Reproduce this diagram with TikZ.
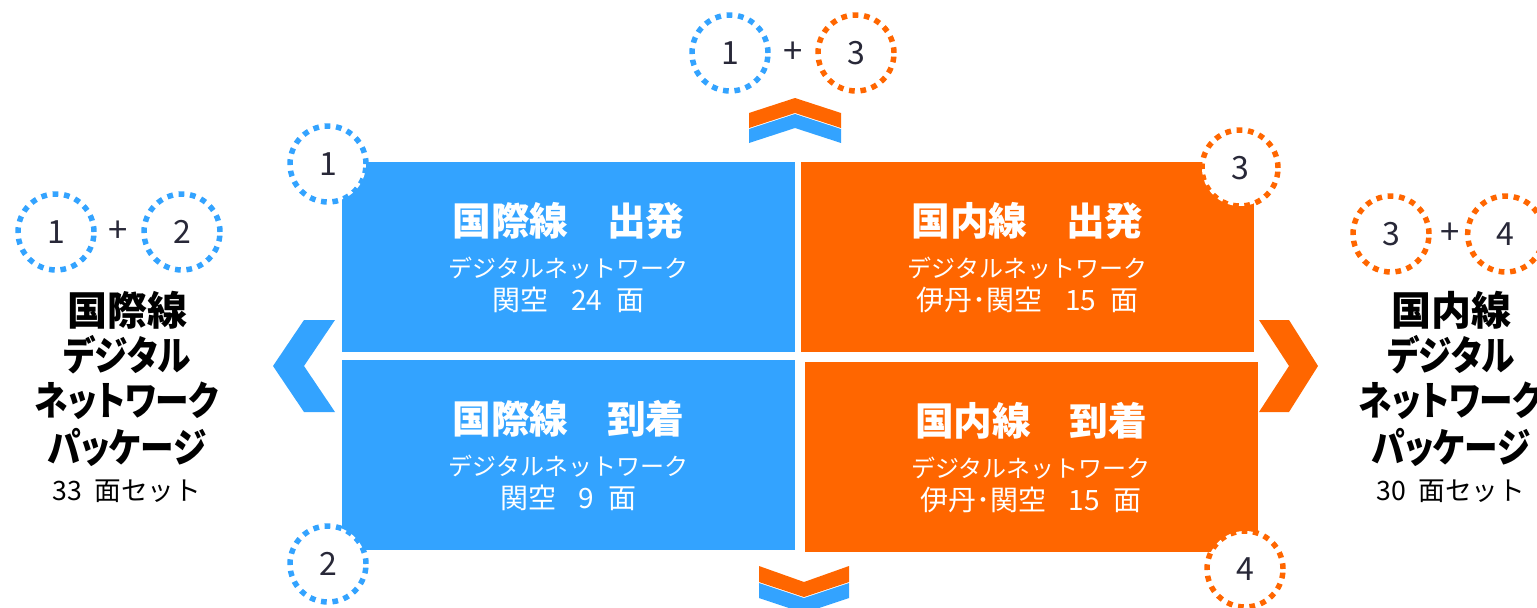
\documentclass[tikz,border=0pt]{standalone}
\usepackage{fontspec}
\usepackage{graphicx}
\setmainfont{Noto Sans CJK JP}
\newfontfamily\pkgfont{Noto Sans CJK JP}[RawFeature=+palt]
\usepackage{tikz}
\usetikzlibrary{positioning}
\definecolor{intblue}{RGB}{51,163,255}
\definecolor{domorange}{RGB}{255,102,0}
\definecolor{numink}{RGB}{40,40,56}
\newcommand{\narrow}[1]{\scalebox{0.84}[1]{#1}}

\begin{document}
\begin{tikzpicture}[x=0.75pt,y=-0.75pt,on grid,
    panel/.style={rectangle,inner sep=0pt,minimum width=339.75pt,minimum height=142.5pt},
    paneltitle/.style={anchor=base,text=white,font=\fontsize{29}{34}\selectfont\bfseries},
    panelsub/.style={anchor=base,text=white,font=\fontsize{18}{22}\selectfont},
    panelcount/.style={anchor=base,text=white,font=\fontsize{21}{25}\selectfont},
    dotnum/.style={circle,draw,fill=white,line width=4.1pt,dash pattern=on 4.3pt off 4.3pt,
        minimum size=57pt,inner sep=0pt,text=numink,font=\fontsize{24}{28}\selectfont},
    plussign/.style={text=numink,font=\fontsize{26}{30}\selectfont},
    pkgline/.style={text height=0.88em,text depth=0.12em,inner sep=0pt,
        font=\pkgfont\bfseries\fontsize{30}{36}\selectfont},
    pkgcount/.style={anchor=base,font=\fontsize{20}{24}\selectfont}]
    \useasboundingbox (0,0) rectangle (1537,607);

    % panels
    \node[panel,fill=intblue] (intdep) at (568.5,257) {};
    \node[panel,fill=domorange] (domdep) at (1027.5,257) {};
    \node[panel,fill=intblue] (intarr) at (568.5,454.5) {};
    \node[panel,fill=domorange] (domarr) at (1031,457) {};

    \node[paneltitle] (intdep-t) at (568.5,235) {国際線\hspace{1em}出発};
    \node[panelsub] (intdep-s) at (568.5,277) {デジタルネットワーク};
    \node[panelcount] (intdep-n) at (568.5,310) {関空\hspace{0.8em}24\hspace{0.5em}面};
    \node[paneltitle] (domdep-t) at (1027.5,235) {国内線\hspace{1em}出発};
    \node[panelsub] (domdep-s) at (1027.5,277) {デジタルネットワーク};
    \node[panelcount] (domdep-n) at (1027.5,310) {伊丹･関空\hspace{0.8em}15\hspace{0.5em}面};
    \node[paneltitle] (intarr-t) at (568.5,433) {国際線\hspace{1em}到着};
    \node[panelsub] (intarr-s) at (568.5,475) {デジタルネットワーク};
    \node[panelcount] (intarr-n) at (568.5,508) {関空\hspace{0.8em}9\hspace{0.5em}面};
    \node[paneltitle] (domarr-t) at (1031,435) {国内線\hspace{1em}到着};
    \node[panelsub] (domarr-s) at (1031,477) {デジタルネットワーク};
    \node[panelcount] (domarr-n) at (1031,510) {伊丹･関空\hspace{0.8em}15\hspace{0.5em}面};

    % corner numbers
    \node[dotnum,draw=intblue] (c1) at (328,164) {1};
    \node[dotnum,draw=domorange] (c3) at (1240,168) {3};
    \node[dotnum,draw=intblue] (c2) at (328,564) {2};
    \node[dotnum,draw=domorange] (c4) at (1245,569) {4};

    % chevrons
    \fill[domorange] (749,113) -- (795,98) -- (841,113) -- (841,128) -- (795,113) -- (749,128) -- cycle;
    \fill[intblue] (749,129) -- (795,114) -- (841,129) -- (841,143) -- (795,128) -- (749,143) -- cycle;
    \fill[domorange] (759,566) -- (804,582) -- (849,566) -- (849,582) -- (804,597) -- (759,582) -- cycle;
    \fill[intblue] (759,583) -- (804,598) -- (849,583) -- (849,598) -- (804,613) -- (759,598) -- cycle;
    \fill[intblue] (304,320) -- (335,320) -- (304,366) -- (335,412) -- (304,412) -- (273,366) -- cycle;
    \fill[domorange] (1259,320) -- (1289,320) -- (1318,366) -- (1289,412) -- (1259,412) -- (1289,366) -- cycle;

    % top pair
    \node[dotnum,draw=intblue] (t1) at (730,53) {1};
    \node[plussign] (tplus) [right=47.25pt of t1] {+};
    \node[dotnum,draw=domorange] (t3) [right=94.5pt of t1] {3};

    % left package
    \node[dotnum,draw=intblue] (l1) at (56,232) {1};
    \node[plussign] (lplus) [right=46.5pt of l1] {+};
    \node[dotnum,draw=intblue] (l2) [right=94.5pt of l1] {2};
    \node[pkgline,anchor=base] (lpkg1) at (127,325) {国際線};
    \node[pkgline] (lpkg2) [below=34pt of lpkg1] {\narrow{デジタル}};
    \node[pkgline] (lpkg3) [below=34pt of lpkg2] {\narrow{ネットワーク}};
    \node[pkgline] (lpkg4) [below=35pt of lpkg3] {\narrow{パッケージ}};
    \node[pkgcount] (lcount) at (127,500) {33\hspace{0.45em}面セット};

    % right package
    \node[dotnum,draw=domorange] (r3) at (1391,234) {3};
    \node[plussign] (rplus) [right=44pt of r3] {+};
    \node[dotnum,draw=domorange] (r4) [right=86pt of r3] {4};
    \node[pkgline,anchor=base] (rpkg1) at (1451,325) {国内線};
    \node[pkgline] (rpkg2) [below=34pt of rpkg1] {\narrow{デジタル}};
    \node[pkgline] (rpkg3) [below=34pt of rpkg2] {\narrow{ネットワーク}};
    \node[pkgline] (rpkg4) [below=35pt of rpkg3] {\narrow{パッケージ}};
    \node[pkgcount] (rcount) at (1451,500) {30\hspace{0.45em}面セット};
\end{tikzpicture}
\end{document}
